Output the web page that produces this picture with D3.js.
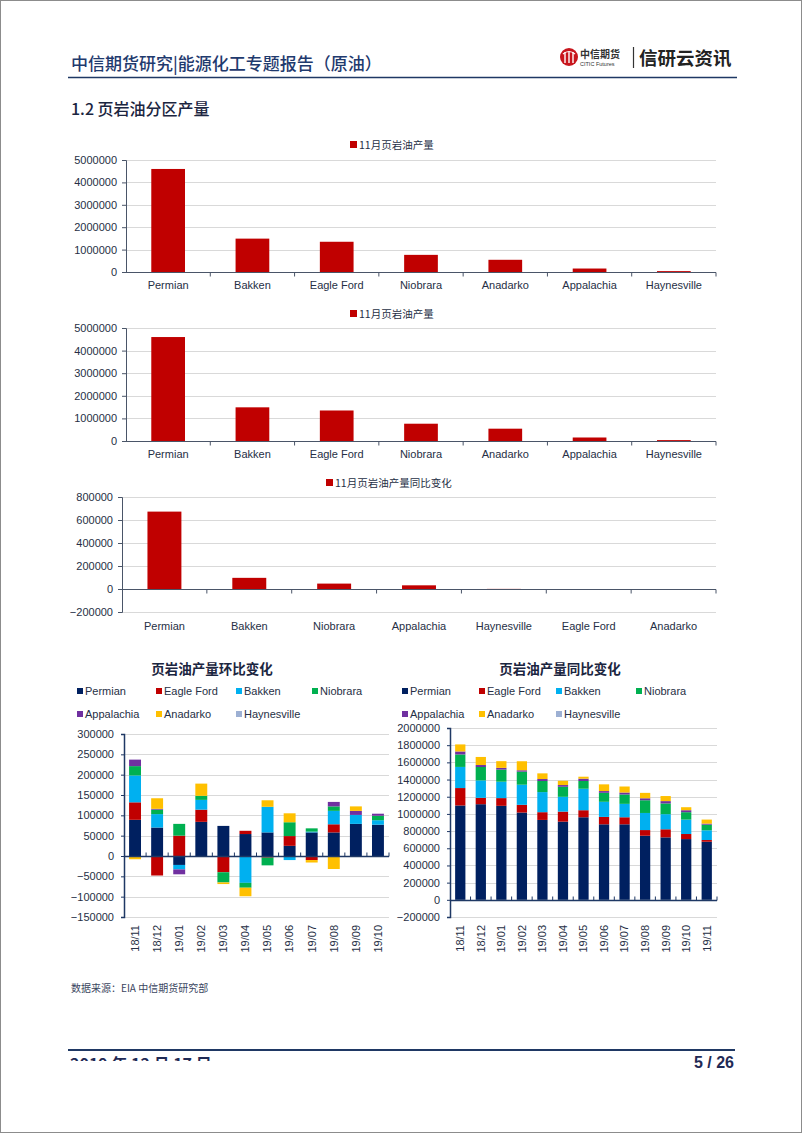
<!DOCTYPE html>
<html>
<head>
<meta charset="utf-8" />
<script src="https://cdn.jsdelivr.net/npm/d3@7"></script>
<style>
body { margin: 0; background: #fff; }
svg text { font-family: "Liberation Sans", Arial, "Noto Sans CJK SC", sans-serif; }
.cjk { font-family: "Noto Sans CJK SC", sans-serif; }
</style>
</head>
<body>
<svg id="page" width="802" height="1133"></svg>
<script>
// ---- data ----
var regions = ["Permian", "Bakken", "Eagle Ford", "Niobrara", "Anadarko", "Appalachia", "Haynesville"];
var nov2019 = [4600000, 1490000, 1350000, 765000, 545000, 155000, 40000];

var yoyRegions = ["Permian", "Bakken", "Niobrara", "Appalachia", "Haynesville", "Eagle Ford", "Anadarko"];
var yoyNov = [673000, 97000, 47000, 32000, 1000, -1000, -2000];

var seriesNames = ["Permian", "Eagle Ford", "Bakken", "Niobrara", "Appalachia", "Anadarko", "Haynesville"];
var seriesColors = ["#002060", "#C00000", "#00B0F0", "#00B050", "#7030A0", "#FFC000", "#9DB0D3"];

var momMonths = ["18/11", "18/12", "19/01", "19/02", "19/03", "19/04", "19/05", "19/06", "19/07", "19/08", "19/09", "19/10"];
var momPermian     = [89000, 70000, -22000, 84000, 74000, 54000, 58000, 25000, 58000, 58000, 79000, 77000];
var momEagleFord   = [43000, -48000, 50000, 30000, -40000, 8000, -4000, 24000, -10000, 20000, 0, 0];
var momBakken      = [66000, 33000, -11000, 24000, 0, -66000, 63000, -10000, 2000, 33000, 22000, 11000];
var momNiobrara    = [23000, 11000, 29000, 10000, -25000, -12000, -19000, 34000, 8000, 11000, 0, 11000];
var momAppalachia  = [16000, 2000, -12000, 0, 0, 0, 0, 0, 0, 11000, 10000, 5000];
var momAnadarko    = [-8000, 26000, 0, 30000, -4000, -21000, 16000, 22000, -6000, -32000, 11000, 0];
var momHaynesville = [0, 0, 0, -2000, 0, 0, 0, 0, 0, 0, 0, 0];

var yoyMonths = ["18/11", "18/12", "19/01", "19/02", "19/03", "19/04", "19/05", "19/06", "19/07", "19/08", "19/09", "19/10", "19/11"];
var yoyPermian     = [1098000, 1113000, 1094000, 1016000, 930000, 910000, 961000, 879000, 879000, 746000, 727000, 707000, 676000];
var yoyEagleFord   = [203000, 74000, 90000, 90000, 90000, 117000, 82000, 86000, 82000, 66000, 94000, 59000, 20000];
var yoyBakken      = [246000, 203000, 191000, 234000, 234000, 172000, 250000, 176000, 156000, 199000, 176000, 168000, 113000];
var yoyNiobrara    = [145000, 156000, 141000, 152000, 129000, 117000, 90000, 105000, 109000, 148000, 125000, 86000, 66000];
var yoyAppalachia  = [35000, 23000, 20000, 16000, 23000, 20000, 27000, 20000, 23000, 23000, 27000, 23000, 12000];
var yoyAnadarko    = [82000, 94000, 78000, 105000, 66000, 50000, 23000, 78000, 70000, 63000, 59000, 35000, 47000];
var yoyHaynesville = [0, 0, 0, 0, 0, 0, 0, 0, 0, 0, 0, 0, 0];

var navy = "#1F3864";
var labelColor = "#262F45";
var gridColor = "#D9D9D9";

var svg = d3.select("#page");

// page frame
svg.append("rect").attr("x", 0.5).attr("y", 0.5).attr("width", 801).attr("height", 1132)
  .attr("fill", "#fff").attr("stroke", "#8c8c8c");

// ---- header ----
svg.append("text").attr("class", "cjk").attr("x", 71).attr("y", 70)
  .attr("font-size", 17).attr("font-weight", 500).attr("fill", "#1F3A6E")
  .text("中信期货研究|能源化工专题报告（原油）");
svg.append("line").attr("x1", 68).attr("x2", 737).attr("y1", 77.5).attr("y2", 77.5)
  .attr("stroke", navy).attr("stroke-width", 1.5);

// logo
var logo = svg.append("g").attr("transform", "translate(569,57)");
logo.append("circle").attr("r", 9).attr("fill", "#C8161D");
[-4, 0, 4].forEach(function(dx) {
  logo.append("line").attr("x1", dx).attr("x2", dx).attr("y1", -5).attr("y2", 6)
    .attr("stroke", "#fff").attr("stroke-width", 1.4);
});
logo.append("path").attr("d", "M-6,-3 Q0,-8 6,-3").attr("fill", "none").attr("stroke", "#fff").attr("stroke-width", 1.2);
svg.append("text").attr("class", "cjk").attr("x", 580).attr("y", 58)
  .attr("font-size", 10).attr("font-weight", 700).attr("fill", "#333").text("中信期货");
svg.append("text").attr("x", 580).attr("y", 66)
  .attr("font-size", 5.5).attr("fill", "#333").text("CITIC Futures");
svg.append("line").attr("x1", 633.5).attr("x2", 633.5).attr("y1", 47).attr("y2", 68)
  .attr("stroke", "#333").attr("stroke-width", 1.2);
svg.append("text").attr("class", "cjk").attr("x", 639).attr("y", 65)
  .attr("font-size", 18.5).attr("font-weight", 700).attr("fill", "#222").text("信研云资讯");

svg.append("text").attr("class", "cjk").attr("x", 71).attr("y", 115)
  .attr("font-size", 16).attr("font-weight", 500).attr("fill", "#1b2540")
  .text("1.2  页岩油分区产量");

// ---- simple bar charts ----
function barChart(opt) {
  var g = svg.append("g");
  var x = d3.scaleBand().domain(opt.cats).range([opt.left, opt.right])
    .paddingInner(0.6).paddingOuter(0.3);
  var y = d3.scaleLinear().domain(opt.domain).range([opt.bottom, opt.top]);
  var ticks = d3.range(opt.domain[0], opt.domain[1] + 1, opt.step);

  g.selectAll(".grid").data(ticks).enter().append("line")
    .attr("x1", opt.left).attr("x2", opt.right)
    .attr("y1", function(d) { return Math.round(y(d)) + 0.5; })
    .attr("y2", function(d) { return Math.round(y(d)) + 0.5; })
    .attr("stroke", gridColor);

  g.selectAll(".bar").data(opt.vals).enter().append("rect")
    .attr("x", function(d, i) { return x(opt.cats[i]); })
    .attr("width", x.bandwidth())
    .attr("y", function(d) { return y(Math.max(0, d)); })
    .attr("height", function(d) { return Math.abs(y(d) - y(0)); })
    .attr("fill", "#C00000");

  // y axis
  var ya = g.append("g").attr("transform", "translate(" + opt.left + ",0)")
    .call(d3.axisLeft(y).tickValues(ticks).tickSize(4).tickPadding(5).tickFormat(d3.format("d")));
  ya.select(".domain").attr("stroke", "#4a5568");
  ya.selectAll(".tick line").attr("stroke", "#4a5568");
  ya.selectAll("text").attr("font-size", 11).attr("fill", labelColor);

  // zero axis with boundary ticks
  var y0 = Math.round(y(0)) + 0.5;
  g.append("line").attr("x1", opt.left).attr("x2", opt.right).attr("y1", y0).attr("y2", y0)
    .attr("stroke", "#4a5568");
  var step = x.step();
  g.selectAll(".bt").data(d3.range(1, opt.cats.length + 1)).enter().append("line")
    .attr("x1", function(i) { return opt.left + i * step; })
    .attr("x2", function(i) { return opt.left + i * step; })
    .attr("y1", y0).attr("y2", y0 + 4).attr("stroke", "#4a5568");

  g.selectAll(".cat").data(opt.cats).enter().append("text")
    .attr("x", function(d) { return x(d) + x.bandwidth() / 2; })
    .attr("y", opt.labelY).attr("text-anchor", "middle")
    .attr("font-size", 11).attr("fill", labelColor).text(function(d) { return d; });

  // legend
  g.append("text").attr("class", "cjk").attr("x", opt.legendX).attr("y", opt.legendY)
    .attr("font-size", 10.5).attr("fill", labelColor).text(opt.legend);
  g.append("rect").attr("x", opt.legendX - 9).attr("y", opt.legendY - 8)
    .attr("width", 7).attr("height", 7).attr("fill", "#C00000");
}

barChart({ cats: regions, vals: nov2019, left: 126, right: 716, top: 160, bottom: 272,
  domain: [0, 5000000], step: 1000000, labelY: 289, legend: "11月页岩油产量", legendX: 359, legendY: 149 });
barChart({ cats: regions, vals: nov2019, left: 126, right: 716, top: 328, bottom: 441,
  domain: [0, 5000000], step: 1000000, labelY: 458, legend: "11月页岩油产量", legendX: 359, legendY: 318 });
barChart({ cats: yoyRegions, vals: yoyNov, left: 122, right: 716, top: 497, bottom: 612,
  domain: [-200000, 800000], step: 200000, labelY: 630, legend: "11月页岩油产量同比变化", legendX: 335, legendY: 487 });

// ---- stacked charts ----
function stackedChart(opt) {
  var g = svg.append("g");
  var rows = opt.months.map(function(m, i) {
    var r = { month: m };
    seriesNames.forEach(function(s, k) { r[s] = opt.series[k][i]; });
    return r;
  });
  var stack = d3.stack().keys(seriesNames).offset(d3.stackOffsetDiverging)(rows);

  var x = d3.scaleBand().domain(opt.months).range([opt.left, opt.right])
    .paddingInner(opt.pad).paddingOuter(opt.pad / 2);
  var y = d3.scaleLinear().domain(opt.domain).range([opt.bottom, opt.top]);
  var ticks = d3.range(opt.domain[0], opt.domain[1] + 1, opt.step);

  g.selectAll(".grid").data(ticks).enter().append("line")
    .attr("x1", opt.left).attr("x2", opt.right)
    .attr("y1", function(d) { return Math.round(y(d)) + 0.5; })
    .attr("y2", function(d) { return Math.round(y(d)) + 0.5; })
    .attr("stroke", gridColor);

  g.selectAll(".layer").data(stack).enter().append("g")
    .attr("fill", function(d, i) { return seriesColors[i]; })
    .selectAll("rect").data(function(d) { return d; }).enter().append("rect")
    .attr("x", function(d) { return x(d.data.month); })
    .attr("width", x.bandwidth())
    .attr("y", function(d) { return y(Math.max(d[0], d[1])); })
    .attr("height", function(d) { return Math.abs(y(d[0]) - y(d[1])); });

  var ya = g.append("g").attr("transform", "translate(" + opt.left + ",0)")
    .call(d3.axisLeft(y).tickValues(ticks).tickSize(3).tickPadding(7).tickFormat(d3.format("d")));
  ya.select(".domain").attr("stroke", navy).attr("stroke-width", 1.5);
  ya.selectAll(".tick line").attr("stroke", navy);
  ya.selectAll("text").attr("font-size", 11).attr("fill", labelColor);

  var y0 = Math.round(y(0)) + 0.5;
  g.append("line").attr("x1", opt.left).attr("x2", opt.right).attr("y1", y0).attr("y2", y0)
    .attr("stroke", navy).attr("stroke-width", 1.5);
  var step = x.step();
  g.selectAll(".bt").data(d3.range(1, opt.months.length + 1)).enter().append("line")
    .attr("x1", function(i) { return opt.left + i * step; })
    .attr("x2", function(i) { return opt.left + i * step; })
    .attr("y1", y0 - 4).attr("y2", y0).attr("stroke", navy);

  g.selectAll(".cat").data(opt.months).enter().append("text")
    .attr("transform", function(d) {
      return "translate(" + (x(d) + x.bandwidth() / 2) + "," + opt.labelY + ") rotate(-90)";
    })
    .attr("dy", "0.35em").attr("text-anchor", "end")
    .attr("font-size", 11).attr("fill", labelColor).text(function(d) { return d; });

  g.append("text").attr("class", "cjk").attr("x", opt.titleX).attr("y", 674)
    .attr("text-anchor", "middle").attr("font-size", 13.5).attr("font-weight", 700)
    .attr("fill", "#1b2540").text(opt.title);

  // legend, 4 per row
  seriesNames.forEach(function(s, i) {
    var lx = opt.legendX[i % 4], ly = i < 4 ? 695 : 718;
    g.append("rect").attr("x", lx).attr("y", ly - 7).attr("width", 6).attr("height", 6)
      .attr("fill", seriesColors[i]);
    g.append("text").attr("x", lx + 8).attr("y", ly).attr("font-size", 11)
      .attr("fill", labelColor).text(s);
  });
}

stackedChart({ months: momMonths, left: 124, right: 389, top: 734, bottom: 917,
  domain: [-150000, 300000], step: 50000, pad: 0.46, labelY: 925,
  series: [momPermian, momEagleFord, momBakken, momNiobrara, momAppalachia, momAnadarko, momHaynesville],
  title: "页岩油产量环比变化", titleX: 212, legendX: [77, 156, 236, 312] });

stackedChart({ months: yoyMonths, left: 450, right: 717, top: 728, bottom: 917,
  domain: [-200000, 2000000], step: 200000, pad: 0.5, labelY: 925,
  series: [yoyPermian, yoyEagleFord, yoyBakken, yoyNiobrara, yoyAppalachia, yoyAnadarko, yoyHaynesville],
  title: "页岩油产量同比变化", titleX: 560, legendX: [402, 479, 556, 636] });

// ---- footer ----
svg.append("text").attr("class", "cjk").attr("x", 71).attr("y", 992)
  .attr("font-size", 10).attr("fill", "#3a4560").text("数据来源：EIA 中信期货研究部");
svg.append("line").attr("x1", 68).attr("x2", 735).attr("y1", 1050).attr("y2", 1050)
  .attr("stroke", navy).attr("stroke-width", 2);
// the date line is cut off by the page edge in the original
svg.append("defs").append("clipPath").attr("id", "dateClip")
  .append("rect").attr("x", 60).attr("y", 1052).attr("width", 200).attr("height", 9);
svg.append("text").attr("class", "cjk").attr("clip-path", "url(#dateClip)")
  .attr("x", 70).attr("y", 1070).attr("font-size", 16).attr("font-weight", 700)
  .attr("fill", "#1F2A55").text("2019 年 12 月 17 日");
svg.append("text").attr("x", 734).attr("y", 1068).attr("text-anchor", "end")
  .attr("font-size", 16).attr("font-weight", 700).attr("fill", "#1F2A55").text("5 / 26");
</script>
</body>
</html>
